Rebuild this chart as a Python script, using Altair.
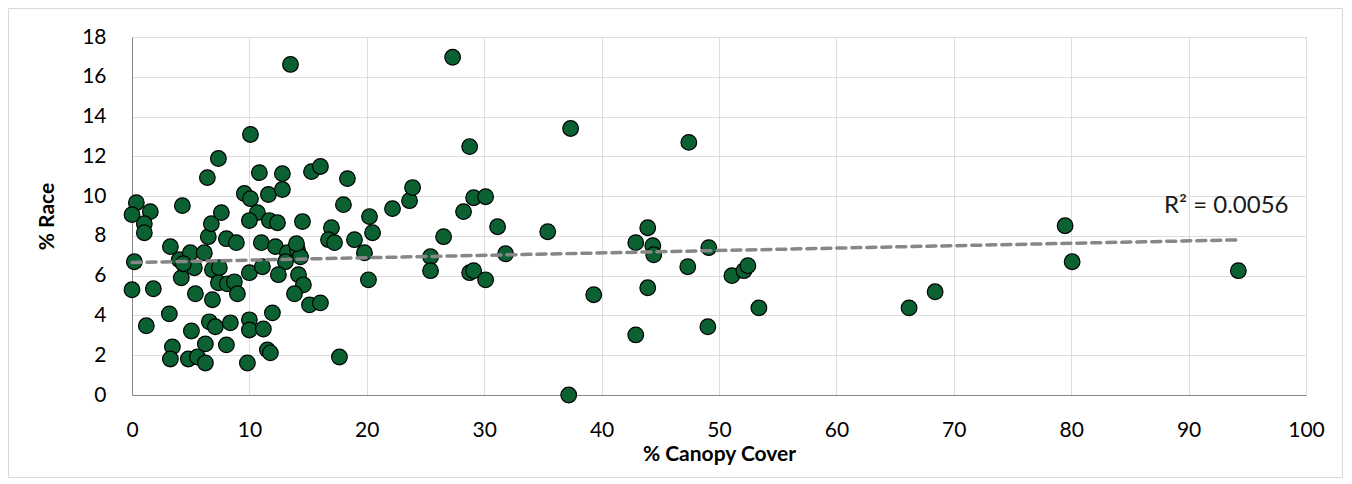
import altair as alt
import pandas as pd

# % Canopy Cover values (x)
canopy = [0.37, 0.0, 1.56, 1.05, 1.05, 0.2, 0.0, 1.82, 1.22,
          4.29, 6.42, 7.36, 3.27, 4.03, 4.20, 3.18, 3.44, 3.27, 4.80, 5.57, 6.25, 6.25, 5.06,
          5.40, 4.97, 6.16, 5.31, 4.37, 6.50, 6.76, 6.59,
          7.61, 6.85, 7.10, 8.04, 6.85, 7.44, 7.36, 8.12, 8.72, 8.98, 8.04, 8.89, 8.38, 9.83,
          10.0, 10.0, 9.57, 10.09, 10.09, 10.85, 10.68, 10.0, 10.0, 11.11, 11.02, 11.19, 11.53,
          11.79, 11.96,
          11.62, 12.81, 12.81, 11.70, 12.39, 12.22, 13.24, 14.10, 14.35, 13.07, 12.47, 14.18,
          14.60, 13.84, 13.50, 14.52, 14.01, 15.29, 16.05, 15.12, 16.05,
          18.35, 18.01, 16.99, 16.74, 17.25, 18.95, 20.23, 20.49, 19.80, 20.14, 17.67, 22.19,
          23.64, 23.90,
          27.31, 28.76, 29.10, 30.12, 28.24, 31.14, 26.54, 25.43, 25.43, 31.82, 28.76, 29.10, 30.12,
          35.41, 37.36, 39.33, 37.20, 47.43, 43.93, 42.91, 44.36, 44.44, 49.13, 47.34, 43.93,
          42.91, 49.05, 51.10, 52.12, 52.46, 53.40, 66.19, 68.41, 79.48, 80.08, 94.24]

# % Race values (y)
race = [9.67, 9.07, 9.22, 8.61, 8.16, 6.70, 5.29, 5.34, 3.48,
        9.52, 10.93, 11.89, 7.46, 6.80, 5.89, 4.08, 2.42, 1.81, 1.81, 1.91, 1.61, 2.57, 3.22,
        5.09, 7.15, 7.15, 6.40, 6.60, 7.96, 8.61, 3.68,
        9.17, 4.79, 3.43, 2.52, 6.30, 6.40, 5.64, 5.59, 5.69, 5.09, 7.86, 7.66, 3.63, 1.61,
        3.78, 3.27, 10.13, 9.87, 13.10, 11.18, 9.17, 8.77, 6.15, 6.45, 7.66, 3.32, 2.27,
        2.12, 4.13,
        10.08, 10.33, 11.13, 8.77, 8.66, 7.46, 7.15, 7.30, 6.95, 6.70, 6.05, 6.05,
        5.54, 5.09, 16.62, 8.72, 7.61, 11.23, 11.49, 4.53, 4.63,
        10.88, 9.57, 8.41, 7.81, 7.66, 7.81, 8.97, 8.16, 7.15, 5.79, 1.91, 9.37,
        9.77, 10.43,
        16.98, 12.49, 9.92, 9.97, 9.22, 8.46, 7.96, 6.95, 6.25, 7.10, 6.15, 6.25, 5.79,
        8.21, 13.40, 5.04, 0.0, 12.70, 8.41, 7.66, 7.51, 7.05, 7.41, 6.45, 5.39,
        3.02, 3.43, 6.00, 6.25, 6.50, 4.38, 4.38, 5.19, 8.51, 6.70, 6.25]

x_ticks = [0, 10, 20, 30, 40, 50, 60, 70, 80, 90, 100]
y_ticks = [0, 2, 4, 6, 8, 10, 12, 14, 16, 18]

# linear trendline as shown in the reference (intercept, slope) and its span
trend_intercept = 6.66
trend_slope = 0.0121
trend_span = [0.0, 94.24]

r2_text = ["R² = 0.0056"]
r2_x = [87.9]
r2_y = [9.52]

df = pd.DataFrame({"canopy": canopy, "race": race})
tdf = pd.DataFrame({"canopy": trend_span})
lab = pd.DataFrame({"t": r2_text, "canopy": r2_x, "race": r2_y})

FONT = "Lato"

xscale = alt.Scale(domain=[0, 100], nice=False, zero=False)
yscale = alt.Scale(domain=[0, 18], nice=False, zero=False)

xaxis = alt.Axis(values=x_ticks, title="% Canopy Cover", grid=True, ticks=False,
                 labelOverlap=False, labelFlush=False, labelFont=FONT, titleFont=FONT,
                 labelPadding=24, titlePadding=3, labelFontSize=21, titleFontSize=21)
yaxis = alt.Axis(values=y_ticks, title="% Race", grid=True, ticks=False, tickSize=0,
                 labelOverlap=False, labelFlush=False, labelFont=FONT, titleFont=FONT,
                 labelPadding=26, titlePadding=24, labelFontSize=21, titleFontSize=21)

X = alt.X("canopy:Q", scale=xscale, axis=xaxis)
Y = alt.Y("race:Q", scale=yscale, axis=yaxis)

frame = alt.Chart(lab).mark_rect(
    fill=None, stroke="#d9d9d9", strokeWidth=1, clip=False
).encode(
    x=alt.value(-123.5), x2=alt.value(1210.5),
    y=alt.value(-28.5), y2=alt.value(440.5),
)

points = alt.Chart(df).mark_circle(
    size=245, color="#0b6131", opacity=1, stroke="#000000", strokeWidth=1.2, clip=False
).encode(x=X, y=Y)

trend = alt.Chart(tdf).transform_calculate(
    race=f"{trend_intercept} + {trend_slope} * datum.canopy"
).mark_line(
    color="#878787", strokeWidth=3.5, strokeDash=[9, 6], strokeCap="round"
).encode(x=X, y=Y)

label = alt.Chart(lab).mark_text(
    align="left", baseline="middle", fontSize=24, font=FONT, color="#1a1a1a"
).encode(x=X, y=Y, text="t:N")

chart = alt.layer(frame, points, trend, label).properties(
    width=1174, height=358,
    autosize=alt.AutoSizeParams(type="none"),
    padding={"left": 124, "top": 29, "right": 38, "bottom": 84},
).configure_view(stroke=None).configure_axis(
    labelColor="#1a1a1a", titleColor="#1a1a1a",
    titleFontWeight="bold", gridColor="#d4d4d4", gridWidth=1,
    domainColor="#b3b3b3", domainWidth=1.2,
).configure(background="white")

chart.save("out.html", embed_options={"renderer": "svg", "actions": False})
